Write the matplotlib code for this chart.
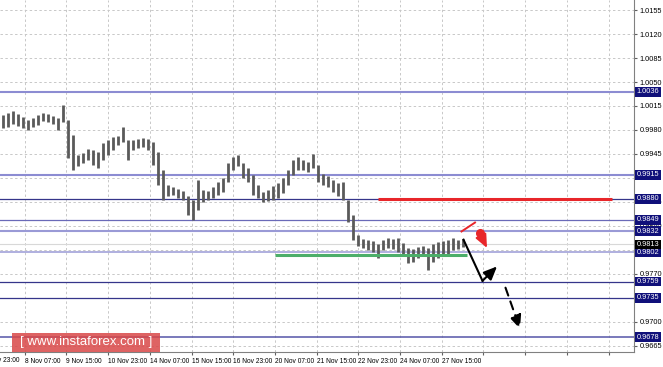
import matplotlib
matplotlib.use('Agg')
import numpy as np
from matplotlib import pyplot as plt
from matplotlib import transforms
from matplotlib.patches import Rectangle

plt.rcParams['font.family'] = ['Liberation Sans Narrow', 'Liberation Sans', 'DejaVu Sans']

# price bars (4h steps)
highs = [1.0002, 1.0005, 1.0008, 1.0003, 0.9999, 0.9995, 0.9998, 1.0002, 1.0005, 1.0003,
         1.0000, 0.9998, 1.0017, 0.9995, 0.9973, 0.9944, 0.9947, 0.9952, 0.9951, 0.9948,
         0.9961, 0.9965, 0.9970, 0.9971, 0.9984, 0.9965, 0.9965, 0.9967, 0.9968, 0.9967,
         0.9963, 0.9948, 0.9922, 0.9900, 0.9897, 0.9894, 0.9891, 0.9884, 0.9878, 0.9907,
         0.9893, 0.9891, 0.9897, 0.9904, 0.9910, 0.9932, 0.9941, 0.9944, 0.9932, 0.9925,
         0.9914, 0.9900, 0.9890, 0.9893, 0.9898, 0.9903, 0.9910, 0.9922, 0.9936, 0.9941,
         0.9936, 0.9933, 0.9945, 0.9929, 0.9916, 0.9913, 0.9907, 0.9903, 0.9904, 0.9878,
         0.9856, 0.9827, 0.9821, 0.9820, 0.9818, 0.9814, 0.9820, 0.9823, 0.9821, 0.9823,
         0.9815, 0.9808, 0.9807, 0.9809, 0.9811, 0.9808, 0.9814, 0.9817, 0.9818, 0.9820,
         0.9823, 0.9820, 0.9821]
lows = [0.9983, 0.9984, 0.9989, 0.9986, 0.9983, 0.9980, 0.9984, 0.9987, 0.9993, 0.9992,
        0.9989, 0.9980, 0.9992, 0.9939, 0.9922, 0.9928, 0.9932, 0.9936, 0.9929, 0.9925,
        0.9936, 0.9944, 0.9951, 0.9958, 0.9963, 0.9936, 0.9951, 0.9954, 0.9955, 0.9951,
        0.9929, 0.9900, 0.9878, 0.9884, 0.9885, 0.9881, 0.9878, 0.9856, 0.9849, 0.9863,
        0.9875, 0.9878, 0.9881, 0.9885, 0.9890, 0.9904, 0.9922, 0.9928, 0.9910, 0.9904,
        0.9885, 0.9881, 0.9875, 0.9877, 0.9878, 0.9881, 0.9888, 0.9900, 0.9914, 0.9922,
        0.9922, 0.9919, 0.9925, 0.9904, 0.9900, 0.9897, 0.9890, 0.9884, 0.9878, 0.9846,
        0.9820, 0.9811, 0.9808, 0.9805, 0.9802, 0.9793, 0.9805, 0.9808, 0.9807, 0.9802,
        0.9799, 0.9786, 0.9788, 0.9793, 0.9796, 0.9776, 0.9788, 0.9793, 0.9798, 0.9799,
        0.9805, 0.9807, 0.9809]

time_labels = ['7 Nov 23:00', '8 Nov 07:00', '9 Nov 15:00', '10 Nov 23:00', '14 Nov 07:00',
               '15 Nov 15:00', '16 Nov 23:00', '20 Nov 07:00', '21 Nov 15:00', '22 Nov 23:00',
               '24 Nov 07:00', '27 Nov 15:00']
label_step = 8.34   # bars between time labels
first_label = -3.9  # bar position of the first (cut off) label

price_ticks = [1.0155, 1.0120, 1.0085, 1.0050, 1.0015, 0.9980, 0.9945, 0.9910,
               0.9875, 0.9840, 0.9805, 0.9770, 0.9735, 0.9700, 0.9665]
hidden_ticks = [0.9910, 0.9805, 0.9735]  # covered by level boxes

levels = [1.0036, 0.9915, 0.9880, 0.9849, 0.9832, 0.9802, 0.9759, 0.9735, 0.9678]
level_colors = ['#8c8cd2', '#8c8cd2', '#35358a', '#6a6ab8', '#9a9ad6',
                '#9a9ad6', '#35358a', '#35358a', '#5555a8']
level_widths = [1.5, 1.5, 0.9, 0.9, 1.5, 1.1, 0.9, 0.9, 1.1]

last_price = 0.9813
resistance = 0.9880
support = 0.9798

if __name__ == "__main__":
    fig = plt.figure(figsize=(6.63, 3.67), dpi=100)
    ax = fig.add_axes([0, 15 / 367, 634 / 663, 352 / 367])
    ax.set_xlim(-0.5, 126.3)
    ax.set_ylim(0.96562, 1.01696)

    # grid
    ax.set_yticks(price_ticks)
    ax.set_yticklabels(['' if p in hidden_ticks else '%.4f' % p for p in price_ticks])
    tick_pos = [first_label + label_step * i for i in range(16)]
    ax.set_xticks(tick_pos[1:])
    ax.set_xticklabels(time_labels[1:] + [''] * (len(tick_pos) - len(time_labels)),
                       ha='left')
    ax.grid(True, ls=(0, (2.5, 2.5)), color='#c8c8c8', lw=0.7)
    ax.set_axisbelow(True)

    # cut-off first label at the left edge
    trans = transforms.blended_transform_factory(ax.transData, ax.transAxes)
    ax.text(3.3, -0.013, time_labels[0], transform=trans, fontsize=4.8,
            ha='right', va='top', clip_on=False)

    ax.yaxis.tick_right()
    ax.tick_params(axis='y', direction='out', length=2.5, labelsize=5.3, pad=1.5,
                   color='#606060')
    ax.tick_params(axis='x', direction='out', length=2.5, labelsize=4.8, pad=1.5,
                   color='#606060')
    for side in ['top', 'left']:
        ax.spines[side].set_visible(False)
    for side in ['right', 'bottom']:
        ax.spines[side].set_color('#808080')
        ax.spines[side].set_linewidth(0.8)

    # levels
    ax.axhline(last_price, color='#d8d8d8', lw=0.8, zorder=1)
    for lv, c, w in zip(levels, level_colors, level_widths):
        ax.axhline(lv, color=c, lw=w, zorder=2)

    # bars
    x = np.arange(len(highs))
    ax.vlines(x, lows, highs, color='#5a5a5a', lw=2.0, zorder=3)

    # scenario lines
    ax.plot([75.1, 121.9], [resistance, resistance], color='#e8262a', lw=2.2, zorder=4,
            solid_capstyle='butt')
    ax.plot([54.5, 92.9], [support, support], color='#4cae6a', lw=2.2, zorder=4,
            solid_capstyle='butt')
    ax.plot([91.8, 94.5], [0.9832, 0.9845], color='#e8262a', lw=1.4, zorder=5)
    ax.plot([95.4], [0.9830], 'o', color='#e8262a', ms=5.5, zorder=5)
    ax.annotate('', xy=(96.9, 0.9808), xytext=(95.4, 0.9830),
                arrowprops=dict(arrowstyle='-|>,head_width=0.35,head_length=0.8',
                                color='#e8262a', lw=1.4, shrinkA=0, shrinkB=0), zorder=5)
    ax.plot([92.2, 96.0], [0.9820, 0.9760], color='black', lw=1.5, zorder=5)
    ax.annotate('', xy=(98.9, 0.9781), xytext=(96.0, 0.9760),
                arrowprops=dict(arrowstyle='-|>,head_width=0.35,head_length=0.8',
                                color='black', lw=1.5, shrinkA=0, shrinkB=0), zorder=5)
    ax.annotate('', xy=(103.5, 0.9690), xytext=(100.6, 0.9750),
                arrowprops=dict(arrowstyle='-|>,head_width=0.35,head_length=0.8',
                                color='black', lw=1.5, ls=(0, (4, 3)),
                                shrinkA=0, shrinkB=0), zorder=5)

    # price boxes on the scale
    ytrans = transforms.blended_transform_factory(ax.transAxes, ax.transData)
    for lv in levels:
        ax.text(1.004, lv, '%.4f' % lv, transform=ytrans, fontsize=5.3, color='white',
                ha='left', va='center', clip_on=False, zorder=6,
                bbox=dict(boxstyle='square,pad=0.2', fc='#10107a', ec='none'))
    ax.text(1.004, last_price, '%.4f' % last_price, transform=ytrans, fontsize=5.3,
            color='white', ha='left', va='center', clip_on=False, zorder=6,
            bbox=dict(boxstyle='square,pad=0.2', fc='black', ec='none'))

    # watermark
    fig.add_artist(Rectangle((12 / 663, 15 / 367), 148 / 663, 19 / 367,
                             transform=fig.transFigure, fc='#d94848', ec='none',
                             alpha=0.85, zorder=10))
    fig.text(86 / 663, 24.5 / 367, '[ www.instaforex.com ]', color='white',
             fontsize=9.5, ha='center', va='center', zorder=11,
             family=['Liberation Sans', 'DejaVu Sans'])

    plt.savefig('out.png', dpi=100)
